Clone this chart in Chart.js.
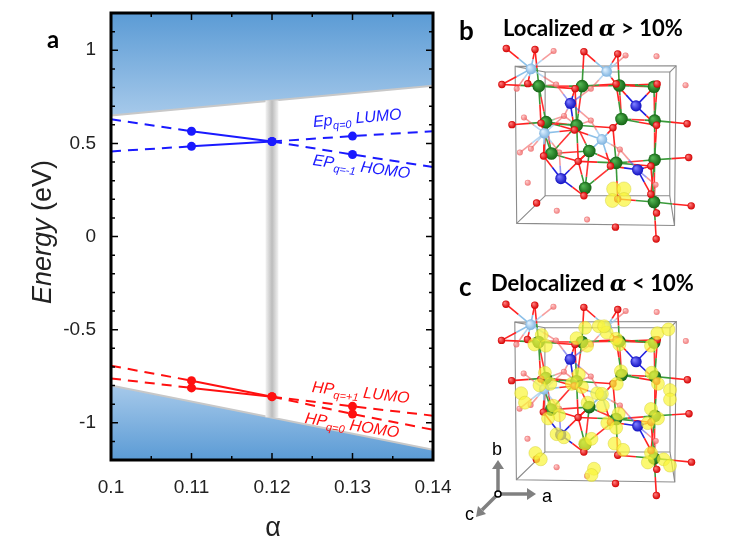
<!DOCTYPE html>
<html><head><meta charset="utf-8">
<script src="https://cdn.jsdelivr.net/npm/chart.js@4.4.1/dist/chart.umd.min.js"></script>
<style>
body{margin:0;background:#fff;width:753px;height:543px;overflow:hidden;position:relative;font-family:"Liberation Sans",Arial,sans-serif;}
canvas{position:absolute;}
.abs{position:absolute;white-space:nowrap;line-height:1;}
.lab{position:absolute;white-space:nowrap;font-style:italic;font-size:16px;line-height:18px;transform-origin:0 50%;font-family:"Liberation Sans",Arial,sans-serif;}
.lab sub{font-size:11px;line-height:0;vertical-align:-4px;}
.blue{color:#1a1aff;}
.red{color:#ff1010;}
.hdr{position:absolute;white-space:nowrap;font-family:Lato,"Open Sans",sans-serif;font-weight:bold;font-size:22px;line-height:1;color:#000;}
.greek{font-family:"DejaVu Serif","Liberation Serif",serif;font-style:italic;font-weight:bold;}
</style></head><body>
<canvas id="main" width="460" height="543" style="left:0;top:0"></canvas>
<canvas id="pb" width="293" height="260" style="left:460px;top:0"></canvas>
<canvas id="pc" width="293" height="260" style="left:460px;top:256px"></canvas>

<div class="abs" style="left:47px;top:27px;font-family:Lato,'Open Sans',sans-serif;font-weight:bold;font-size:24px;">a</div>
<div class="abs" style="left:42px;top:232px;transform:translate(-50%,-50%) rotate(-90deg);font-size:27px;color:#222;"><i>Energy</i> (eV)</div>
<div class="abs" style="left:273px;top:527px;transform:translate(-50%,-50%);font-size:27px;color:#222;">α</div>

<div class="lab blue" style="left:313px;top:113px;transform:rotate(-5deg)">Ep<sub>q=0</sub> LUMO</div>
<div class="lab blue" style="left:313px;top:151px;transform:rotate(8deg)">EP<sub>q=-1</sub> HOMO</div>
<div class="lab red" style="left:312px;top:378px;transform:rotate(6.5deg)">HP<sub>q=+1</sub> LUMO</div>
<div class="lab red" style="left:305px;top:409px;transform:rotate(9deg)">HP<sub>q=0</sub> HOMO</div>

<div class="hdr" style="left:459px;top:17px;font-size:26px;">b</div>
<div class="hdr" style="left:503px;top:17px;">Localized <span class="greek">α</span> &gt; 10%</div>
<div class="hdr" style="left:459px;top:273px;font-size:26px;">c</div>
<div class="hdr" style="left:491px;top:272px;">Delocalized <span class="greek">α</span> &lt; 10%</div>

<svg width="753" height="543" style="position:absolute;left:0;top:0;pointer-events:none">
  <g stroke="#808080" stroke-width="3.5" fill="#808080">
    <line x1="498" y1="494" x2="498" y2="468"/>
    <polygon points="492,469 504,469 498,460" stroke="none"/>
    <line x1="498" y1="494" x2="528" y2="494"/>
    <polygon points="527,488 527,500 536,494" stroke="none"/>
    <line x1="498" y1="494" x2="482" y2="510"/>
    <polygon points="478,506 486,514 476,517" stroke="none"/>
  </g>
  <circle cx="498" cy="494" r="3" fill="#fff" stroke="#000" stroke-width="1.5"/>
</svg>
<div class="abs" style="left:492px;top:440px;font-size:18px;">b</div>
<div class="abs" style="left:542px;top:487px;font-size:18px;">a</div>
<div class="abs" style="left:465px;top:505px;font-size:18px;">c</div>

<script>
// ---------- panel a data ----------
const alpha = [0.10, 0.11, 0.12, 0.13, 0.14];
const epLumo = [0.457, 0.484, 0.51, 0.539, 0.565];
const epHomo = [0.63, 0.565, 0.51, 0.44, 0.373];
const hpLumo = [-0.762, -0.813, -0.86, -0.912, -0.962];
const hpHomo = [-0.694, -0.774, -0.86, -0.953, -1.038];
const edgeAlpha = [0.10, 0.14];
const cbEdge = [0.65, 0.81];
const vbEdge = [-0.80, -1.145];
const transitionAlpha = 0.12;
const transitionRange = [0.73, -0.97];
const xTickLabels = ['0.1', '0.11', '0.12', '0.13', '0.14'];
const yTickLabels = ['1', '0.5', '0', '-0.5', '-1'];

// ---------- panel b / c structure data (image units) ----------
const greenAtoms = [[225,250],[362,250],[480,248],[590,252],[248,365],[345,375],[487,355],[592,360],[265,465],[385,457],[470,495],[592,485],[372,575],[590,620]];
const blueAtoms = [[325,305],[533,313],[295,545],[538,517]];
const lightBlueAtoms = [[200,195],[440,203],[243,400],[425,420]];
const redAtoms = [[122,130],[213,133],[368,140],[475,147],[108,245],[190,242],[340,258],[470,243],[600,243],[140,373],[232,368],[338,390],[460,383],[598,375],[695,370],[240,473],[350,490],[452,505],[580,505],[700,478],[218,623],[368,600],[475,610],[580,595],[598,655],[708,632],[597,738],[468,700]];
const redFadedAtoms = [[272,138],[500,152],[598,155],[155,258],[280,245],[390,258],[690,247],[178,350],[305,345],[390,360],[165,462],[200,450],[290,462],[482,452],[190,558],[282,648],[378,676],[595,565]];
const cellFront = [[150,187],[660,185],[655,695],[155,688]];
const cellBack = [[245,205],[640,205],[640,600],[245,600]];
const cloudLocalized = [[462,578],[495,578],[458,615],[495,612]];
const cloudDelocalized = [[235,228],[212,258],[248,262],[372,205],[345,238],[378,262],[415,200],[440,220],[480,258],[470,240],[600,222],[580,262],[635,210],[245,348],[262,383],[228,388],[352,353],[330,383],[362,393],[485,343],[472,383],[582,348],[602,383],[640,403],[170,413],[182,443],[410,413],[428,453],[380,443],[272,453],[290,483],[255,493],[478,478],[442,508],[470,523],[580,463],[602,493],[570,508],[640,433],[282,543],[305,553],[372,573],[392,558],[465,573],[492,593],[580,603],[620,623],[570,633],[215,603],[232,623],[400,653],[392,673],[640,643],[432,200],[425,415]];

// ---------- panel a ----------
const pts = arr => alpha.map((a, i) => ({x: a, y: arr[i]}));
const edgePts = arr => edgeAlpha.map((a, i) => ({x: a, y: arr[i]}));
const BLUE = '#1a1aff', RED = '#ff1010';

function bandGradient(top) {
  return ctx => {
    const ch = ctx.chart, a = ch.chartArea;
    if (!a) return '#7fb0e0';
    const ys = ch.scales.y;
    let g;
    if (top) {
      g = ch.ctx.createLinearGradient(0, a.top, 0, ys.getPixelForValue(cbEdge[0]));
      g.addColorStop(0, '#5b9bd5'); g.addColorStop(1, '#a6c9ea');
    } else {
      g = ch.ctx.createLinearGradient(0, ys.getPixelForValue(vbEdge[0]), 0, a.bottom);
      g.addColorStop(0, '#a6c9ea'); g.addColorStop(1, '#5b9bd5');
    }
    return g;
  };
}
function grayBand(ctx) {
  const ch = ctx.chart;
  if (!ch.chartArea) return '#ccc';
  const px = ch.scales.x.getPixelForValue(transitionAlpha);
  const g = ch.ctx.createLinearGradient(px - 6.5, 0, px + 6.5, 0);
  g.addColorStop(0, '#f3f3f3'); g.addColorStop(0.5, '#bcbcbc'); g.addColorStop(1, '#f3f3f3');
  return g;
}
function series(arr, color, order) {
  return {
    data: pts(arr), borderColor: color, backgroundColor: color, borderWidth: 2,
    pointRadius: c => (c.dataIndex === 0 || c.dataIndex === alpha.length - 1) ? 0 : 4.5,
    pointBorderWidth: 0, fill: false, order: order, tension: 0,
    segment: { borderDash: c => (c.p0.parsed.x < 0.1049 || c.p1.parsed.x > 0.1251) ? [10, 7] : undefined }
  };
}
const labelFrom = (list, v) => { const s = list.find(l => Math.abs(parseFloat(l) - v) < 1e-9); return s === undefined ? '' : s; };

const frameTicks = {
  id: 'frameTicks',
  afterDatasetsDraw(ch) {
    const c = ch.ctx, a = ch.chartArea, xs = ch.scales.x, ys = ch.scales.y;
    c.save();
    c.strokeStyle = '#000'; c.lineWidth = 1.5;
    c.beginPath();
    xs.ticks.forEach(t => {
      const p = xs.getPixelForValue(t.value);
      const L = labelFrom(xTickLabels, t.value) ? 7 : 4;
      c.moveTo(p, a.bottom); c.lineTo(p, a.bottom - L);
      c.moveTo(p, a.top); c.lineTo(p, a.top + L);
    });
    ys.ticks.forEach(t => {
      const p = ys.getPixelForValue(t.value);
      const L = labelFrom(yTickLabels, t.value) ? 7 : 4;
      c.moveTo(a.left, p); c.lineTo(a.left + L, p);
      c.moveTo(a.right, p); c.lineTo(a.right - L, p);
    });
    c.stroke();
    c.lineWidth = 3;
    c.strokeRect(a.left, a.top, a.right - a.left, a.bottom - a.top);
    c.restore();
  }
};

new Chart(document.getElementById('main'), {
  type: 'line',
  data: { datasets: [
    series(epLumo, BLUE, 1), series(epHomo, BLUE, 2),
    series(hpLumo, RED, 3), series(hpHomo, RED, 4),
    { data: [{x: transitionAlpha, y: transitionRange[0]}, {x: transitionAlpha, y: transitionRange[1]}],
      borderColor: grayBand, borderWidth: 13, borderCapStyle: 'butt', pointRadius: 0, fill: false, order: 9 },
    { data: edgePts(cbEdge), borderColor: '#c8c8c8', borderWidth: 2, pointRadius: 0, fill: 'end', backgroundColor: bandGradient(true), order: 10 },
    { data: edgePts(vbEdge), borderColor: '#c8c8c8', borderWidth: 2, pointRadius: 0, fill: 'start', backgroundColor: bandGradient(false), order: 11 }
  ]},
  options: {
    responsive: false, animation: false, events: [],
    layout: { padding: { left: 0, top: 13, right: 27, bottom: 0 } },
    plugins: { legend: { display: false }, tooltip: { enabled: false } },
    scales: {
      x: { type: 'linear', min: 0.10, max: 0.14,
        grid: { display: false, drawTicks: false }, border: { display: false },
        ticks: { stepSize: 0.005, autoSkip: false, maxRotation: 0, padding: 16, color: '#222',
          font: { family: '"Liberation Sans", Arial, sans-serif', size: 19 },
          callback: v => labelFrom(xTickLabels, v) },
        afterFit: s => { s.height = 83; s.paddingLeft = 0; s.paddingRight = 0; } },
      y: { type: 'linear', min: -1.2, max: 1.2,
        grid: { display: false, drawTicks: false }, border: { display: false },
        ticks: { stepSize: 0.1, autoSkip: false, padding: 15, color: '#222',
          font: { family: '"Liberation Sans", Arial, sans-serif', size: 19 },
          callback: v => labelFrom(yTickLabels, v) },
        afterFit: s => { s.width = 111; s.paddingTop = 0; s.paddingBottom = 0; } }
    }
  },
  plugins: [frameTicks]
});

// ---------- panels b, c ----------
const toPts = arr => arr.map(p => ({x: p[0], y: p[1]}));
function sphere(dark, light) {
  return ctx => {
    const ch = ctx.chart;
    if (!ch.chartArea || !ctx.raw) return dark;
    const x = ch.scales.x.getPixelForValue(ctx.raw.x), y = ch.scales.y.getPixelForValue(ctx.raw.y);
    const r = ctx.dataset.pointRadius;
    const g = ch.ctx.createRadialGradient(x - r * 0.35, y - r * 0.35, r * 0.1, x, y, r);
    g.addColorStop(0, light); g.addColorStop(1, dark);
    return g;
  };
}
const dist = (p, q) => Math.hypot(p[0] - q[0], p[1] - q[1]);
const structure = {
  id: 'structure',
  beforeDatasetsDraw(ch) {
    const c = ch.ctx, xs = ch.scales.x, ys = ch.scales.y;
    const P = p => [xs.getPixelForValue(p[0]), ys.getPixelForValue(p[1])];
    c.save();
    c.strokeStyle = '#8c8c8c'; c.lineWidth = 1.1;
    [cellFront, cellBack].forEach(face => {
      c.beginPath();
      face.forEach((p, i) => { const q = P(p); i ? c.lineTo(q[0], q[1]) : c.moveTo(q[0], q[1]); });
      c.closePath(); c.stroke();
    });
    c.beginPath();
    cellFront.forEach((p, i) => { const a = P(p), b = P(cellBack[i]); c.moveTo(a[0], a[1]); c.lineTo(b[0], b[1]); });
    c.stroke();
    c.lineWidth = 1.6;
    const half = (m, o, mc, oc) => {
      const a = P(m), b = P(o), mid = [(a[0] + b[0]) / 2, (a[1] + b[1]) / 2];
      c.strokeStyle = mc; c.beginPath(); c.moveTo(a[0], a[1]); c.lineTo(mid[0], mid[1]); c.stroke();
      c.strokeStyle = oc; c.beginPath(); c.moveTo(mid[0], mid[1]); c.lineTo(b[0], b[1]); c.stroke();
    };
    const axial = (m, o) => Math.abs(m[0] - o[0]) < 35 || Math.abs(m[1] - o[1]) < 35;
    const bondSet = (metals, th, mc, mcFaded, longTh) => {
      metals.forEach(m => {
        redFadedAtoms.forEach(o => { if (dist(m, o) < th) half(m, o, mcFaded, 'rgba(240,90,90,0.6)'); });
        redAtoms.forEach(o => {
          const d = dist(m, o);
          if (d < th || (longTh && d < longTh && axial(m, o))) half(m, o, mc, '#f22');
        });
      });
    };
    greenAtoms.forEach((g1, i) => greenAtoms.forEach((g2, j) => {
      if (j > i && dist(g1, g2) < 140) {
        const a = P(g1), b = P(g2);
        const lerp = t => [a[0] + (b[0] - a[0]) * t, a[1] + (b[1] - a[1]) * t];
        const s1 = lerp(0.3), s2 = lerp(0.7);
        c.strokeStyle = '#3a9a3a'; c.beginPath(); c.moveTo(a[0], a[1]); c.lineTo(s1[0], s1[1]); c.moveTo(s2[0], s2[1]); c.lineTo(b[0], b[1]); c.stroke();
        c.strokeStyle = '#f33'; c.beginPath(); c.moveTo(s1[0], s1[1]); c.lineTo(s2[0], s2[1]); c.stroke();
      }
    }));
    bondSet(greenAtoms, 62, '#3a9a3a', 'rgba(90,170,90,0.6)', 122);
    bondSet(blueAtoms, 100, '#2020e0', 'rgba(80,80,230,0.6)', 0);
    bondSet(lightBlueAtoms, 105, '#8cc0e8', 'rgba(150,195,235,0.7)', 0);
    c.restore();
  }
};
function structChart(id, cloud, cloudRadius) {
  new Chart(document.getElementById(id), {
    type: 'scatter',
    data: { datasets: [
      { data: toPts(cloud), pointRadius: cloudRadius, backgroundColor: 'rgba(250,245,60,0.72)', borderColor: 'rgba(205,200,40,0.5)', borderWidth: 0.8, order: 0 },
      { data: toPts(redAtoms), pointRadius: 3.7, backgroundColor: sphere('#d40000', '#ff7a7a'), borderWidth: 0, order: 1 },
      { data: toPts(greenAtoms), pointRadius: 6.3, backgroundColor: sphere('#146414', '#52b552'), borderWidth: 0, order: 2 },
      { data: toPts(blueAtoms), pointRadius: 5.6, backgroundColor: sphere('#1010c0', '#7a7aff'), borderWidth: 0, order: 3 },
      { data: toPts(lightBlueAtoms), pointRadius: 5.3, backgroundColor: sphere('#7fb4e0', '#dcefff'), borderWidth: 0, order: 4 },
      { data: toPts(redFadedAtoms), pointRadius: 3, backgroundColor: sphere('rgba(235,90,90,0.8)', 'rgba(255,190,190,0.8)'), borderWidth: 0, order: 5 }
    ]},
    options: {
      responsive: false, animation: false, events: [],
      layout: { padding: 0 },
      plugins: { legend: { display: false }, tooltip: { enabled: false } },
      scales: {
        x: { type: 'linear', min: 0, max: 879, display: false },
        y: { type: 'linear', min: 0, max: 780, reverse: true, display: false }
      }
    },
    plugins: [structure]
  });
}
structChart('pb', cloudLocalized, 7);
structChart('pc', cloudDelocalized, 6.5);
</script>
</body></html>
